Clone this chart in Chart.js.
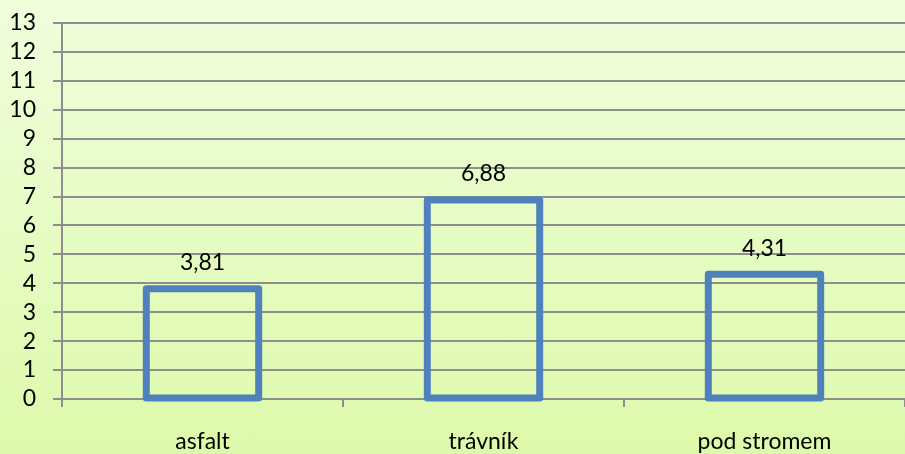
<!DOCTYPE html>
<html>
<head>
<meta charset="utf-8">
<script src="https://cdn.jsdelivr.net/npm/chart.js@4"></script>
<style>
  html, body { margin: 0; padding: 0; }
  body {
    width: 905px; height: 454px; overflow: hidden;
    background: linear-gradient(to bottom, #f0fedc 0%, #e6fcc4 50%, #ddfaab 100%);
  }
  canvas { display: block; }
</style>
</head>
<body>
<canvas id="c" width="905" height="454"></canvas>
<script>
const categories = ['asfalt', 'trávník', 'pod stromem'];
const values = [3.81, 6.88, 4.31];
const valueLabels = ['3,81', '6,88', '4,31'];
const yTicks = [0, 1, 2, 3, 4, 5, 6, 7, 8, 9, 10, 11, 12, 13];

const FONT = 'Lato, "Open Sans", sans-serif';
const FONT_SIZE = 23;
const BAR_COLOR = '#4f81bd';
const GRID = '#8e8e8e';

// Hollow bars: stroke centred on the bar outline, then the value above it
const outlineBars = {
  id: 'outlineBars',
  afterDatasetsDraw(chart) {
    const ctx = chart.ctx;
    const meta = chart.getDatasetMeta(0);
    ctx.save();
    ctx.strokeStyle = BAR_COLOR;
    ctx.lineWidth = 7;
    ctx.lineJoin = 'round';
    meta.data.forEach((bar, i) => {
      const p = bar.getProps(['x', 'y', 'base', 'width'], true);
      ctx.strokeRect(p.x - p.width / 2, p.y, p.width, p.base - p.y);
      ctx.fillStyle = '#000';
      ctx.font = FONT_SIZE + 'px ' + FONT;
      ctx.textAlign = 'center';
      ctx.textBaseline = 'middle';
      ctx.fillText(valueLabels[i], p.x, p.y - 26);
    });
    ctx.restore();
  }
};

new Chart(document.getElementById('c'), {
  type: 'bar',
  data: {
    labels: categories,
    datasets: [{
      data: values,
      backgroundColor: 'rgba(0,0,0,0)',
      borderWidth: 0,
      barPercentage: 0.4,
      categoryPercentage: 1
    }]
  },
  options: {
    responsive: false,
    animation: false,
    devicePixelRatio: 1,
    layout: { padding: 0 },
    plugins: { legend: { display: false }, tooltip: { enabled: false } },
    scales: {
      x: {
        offset: true,
        afterFit(scale) { scale.height = 55; },
        grid: {
          offset: true,
          drawOnChartArea: false,
          color: GRID,
          lineWidth: 2,
          tickLength: 8
        },
        border: { color: GRID, width: 2 },
        ticks: { color: '#000', font: { family: FONT, size: FONT_SIZE }, padding: 21, autoSkip: false, maxRotation: 0 }
      },
      y: {
        min: 0,
        max: 13,
        afterBuildTicks(scale) { scale.ticks = yTicks.map(v => ({ value: v })); },
        afterFit(scale) {
          scale.width = 62;
          scale.paddingTop = 23;
          scale.paddingBottom = 0;
        },
        grid: { color: GRID, lineWidth: 2, tickLength: 9 },
        border: { color: GRID, width: 2 },
        ticks: { color: '#000', font: { family: FONT, size: FONT_SIZE }, padding: 17, autoSkip: false }
      }
    }
  },
  plugins: [outlineBars]
});
</script>
</body>
</html>
